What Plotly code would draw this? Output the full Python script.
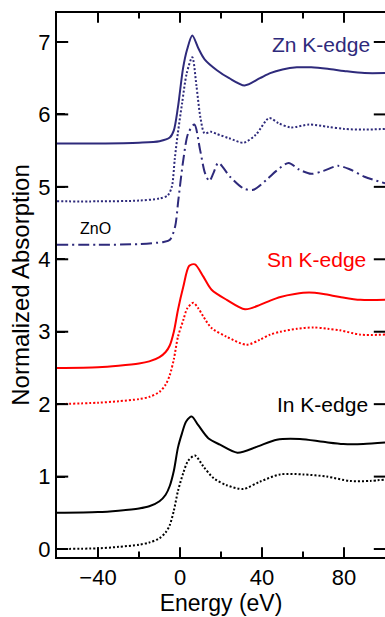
import plotly.graph_objects as go

NAVY = "#2E2A7B"
RED = "#FF0000"
BLACK = "#000000"

# Zn K-edge (solid)
zn_e = [-60, -40, -20, -10, -5, -3, -1, 1.5, 3.5, 6, 9, 12, 18, 24, 31.5, 39, 44, 50, 57, 64, 72, 80, 90, 100]
zn_a = [5.60, 5.60, 5.61, 5.63, 5.68, 5.78, 6.10, 6.64, 6.90, 7.09, 6.91, 6.76, 6.61, 6.50, 6.40, 6.50, 6.57, 6.62, 6.65, 6.65, 6.63, 6.60, 6.57, 6.57]

# Zn K-edge (dotted)
znd_e = [-60, -40, -20, -10, -6, -4, -2.5, -1, 1, 3.3, 6, 8, 10, 12, 15, 18, 24, 31, 37, 43.5, 48, 54, 63, 72, 80, 90, 100]
znd_a = [4.80, 4.80, 4.81, 4.84, 4.88, 5.00, 5.40, 5.75, 6.15, 6.57, 6.79, 6.40, 5.95, 5.74, 5.76, 5.73, 5.67, 5.61, 5.72, 5.95, 5.88, 5.82, 5.86, 5.83, 5.80, 5.79, 5.80]

# ZnO reference (dash-dot)
zno_e = [-60, -40, -20, -8, -4.9, -2.4, -0.8, 1.6, 4, 7, 9.8, 12.2, 14.3, 16.3, 18.7, 24.4, 30.9, 35.8, 42.3, 47, 53, 58, 64, 70, 77, 83, 90, 100]
zno_a = [4.20, 4.20, 4.21, 4.24, 4.27, 4.45, 4.82, 5.37, 5.74, 5.86, 5.51, 5.19, 5.08, 5.19, 5.33, 5.14, 4.98, 4.96, 5.10, 5.22, 5.33, 5.24, 5.18, 5.22, 5.29, 5.24, 5.14, 5.05]

# Sn K-edge (solid)
sn_e = [-60, -40, -30, -20, -15, -10, -7, -5, -3, -1, 1.6, 4.5, 7.3, 11.4, 15.4, 22.8, 31.7, 39, 44, 49, 56, 63, 70, 78, 88, 100]
sn_a = [2.50, 2.51, 2.53, 2.56, 2.59, 2.65, 2.72, 2.81, 3.00, 3.30, 3.62, 3.91, 3.93, 3.76, 3.58, 3.44, 3.31, 3.37, 3.43, 3.48, 3.52, 3.54, 3.52, 3.48, 3.44, 3.44]

# Sn K-edge (dotted)
snd_e = [-60, -40, -30, -20, -15, -10, -7, -5, -3, -1, 1.6, 3.5, 6.5, 9, 11.4, 15.4, 22.8, 32.5, 39, 44, 49, 57, 65, 72, 78, 88, 100]
snd_a = [2.00, 2.02, 2.04, 2.07, 2.10, 2.17, 2.27, 2.40, 2.62, 2.93, 3.16, 3.32, 3.40, 3.32, 3.21, 3.05, 2.93, 2.82, 2.89, 2.96, 3.00, 3.04, 3.06, 3.04, 3.02, 2.96, 2.96]

# In K-edge (solid)
in_e = [-60, -40, -30, -20, -15, -10, -7, -5, -3, -1, 1, 3, 5.7, 8.9, 13.8, 19.5, 28, 37.4, 47.2, 58.5, 69.9, 79.7, 89.4, 100]
in_a = [0.50, 0.51, 0.53, 0.56, 0.59, 0.66, 0.75, 0.87, 1.08, 1.40, 1.60, 1.76, 1.83, 1.71, 1.53, 1.44, 1.33, 1.41, 1.51, 1.52, 1.48, 1.45, 1.45, 1.47]

# In K-edge (dotted)
ind_e = [-60, -40, -30, -20, -15, -10, -7, -5, -3, -1, 1.6, 4, 7.3, 11.4, 16.3, 22.8, 30.9, 39, 48.8, 60.2, 71.6, 82.9, 92.7, 100]
ind_a = [0.00, 0.01, 0.03, 0.06, 0.09, 0.15, 0.23, 0.33, 0.53, 0.80, 1.05, 1.22, 1.29, 1.14, 0.98, 0.88, 0.83, 0.93, 1.03, 1.03, 1.00, 0.94, 0.94, 0.96]

x_ticks = [-40, 0, 40, 80]
x_minor = [-20, 20, 60]
y_ticks = [0, 1, 2, 3, 4, 5, 6, 7]

labels = ["Zn K-edge", "Sn K-edge", "In K-edge", "ZnO"]
label_x = [93.5, 91.5, 92.5, -50]
label_y = [6.97, 4.0, 2.0, 4.42]
label_col = [NAVY, RED, BLACK, BLACK]
label_size = [21, 21, 21, 16]
label_anchor = ["right", "right", "right", "left"]

XR = [-60, 100]
YR = [-0.11, 7.4]

series = [
    (zn_e, zn_a, NAVY, "solid"),
    (znd_e, znd_a, NAVY, "2px,2px"),
    (zno_e, zno_a, NAVY, "11px,4px,2px,4px"),
    (sn_e, sn_a, RED, "solid"),
    (snd_e, snd_a, RED, "2px,2px"),
    (in_e, in_a, BLACK, "solid"),
    (ind_e, ind_a, BLACK, "2px,2px"),
]

fig = go.Figure()
for e, a, c, d in series:
    fig.add_trace(go.Scatter(x=e, y=a, mode="lines",
                             line=dict(color=c, width=2, dash=d, shape="spline", smoothing=0.8),
                             showlegend=False, hoverinfo="skip"))


def tick_trace(xs, ys, symbol, size):
    # tick marks as clipped line markers sitting on the frame edges (only the inner half shows)
    return go.Scatter(x=xs, y=ys, mode="markers", cliponaxis=True, showlegend=False, hoverinfo="skip",
                      marker=dict(symbol=symbol, size=size, color=BLACK,
                                  line=dict(color=BLACK, width=2)))


# left / right ticks
fig.add_trace(tick_trace([XR[0]] * len(y_ticks), y_ticks, "line-ew", 16))
fig.add_trace(tick_trace([XR[1]] * len(y_ticks), y_ticks, "line-ew", 16))
# bottom / top ticks
for yv in YR:
    fig.add_trace(tick_trace(x_ticks, [yv] * len(x_ticks), "line-ns", 14))
    fig.add_trace(tick_trace(x_minor, [yv] * len(x_minor), "line-ns", 8))

for t, xx, yy, c, s, an in zip(labels, label_x, label_y, label_col, label_size, label_anchor):
    fig.add_annotation(x=xx, y=yy, text=t, showarrow=False, xanchor=an, yanchor="middle",
                       font=dict(color=c, size=s, family="Liberation Sans, Arial"))

font = dict(family="Liberation Sans, Arial", size=22, color="black")

fig.update_layout(
    template="none",
    width=385, height=617,
    margin=dict(l=57, r=0, t=13, b=60),
    paper_bgcolor="white", plot_bgcolor="white",
    font=font,
    xaxis=dict(range=XR, tickmode="array", tickvals=x_ticks, ticks="inside", ticklen=7,
               tickcolor="black", tickwidth=2, mirror=True,
               showline=True, linecolor="black", linewidth=2, showgrid=False, zeroline=False,
               title=dict(text="Energy (eV)", font=dict(size=23), standoff=2),
               tickfont=dict(size=22)),
    yaxis=dict(range=YR, tickmode="array", tickvals=y_ticks, ticks="inside", ticklen=8,
               tickcolor="black", tickwidth=2,
               showline=True, linecolor="black", linewidth=2, showgrid=False, zeroline=False,
               title=dict(text="Normalized Absorption", font=dict(size=24), standoff=2),
               tickfont=dict(size=22)),
)

fig.write_html("out.html")
